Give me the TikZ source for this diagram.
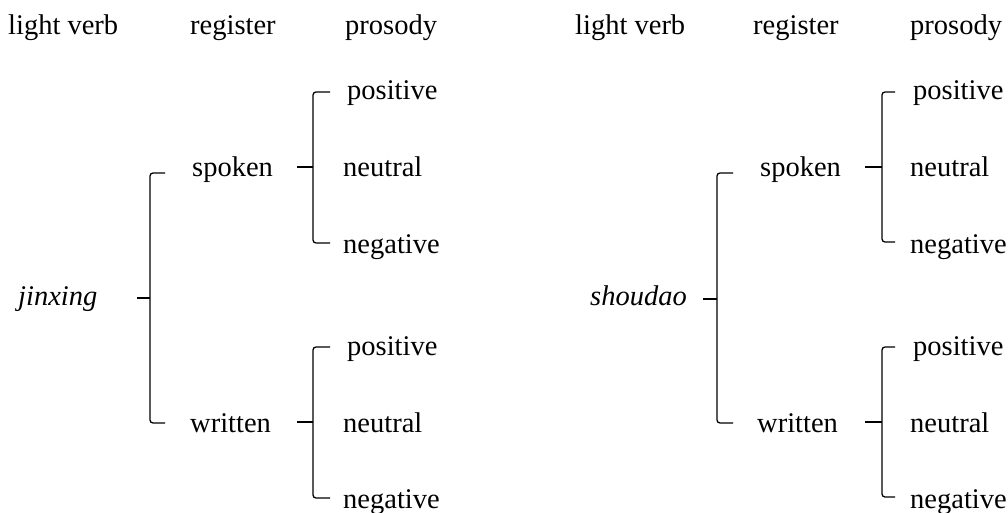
\documentclass[tikz,border=0pt]{standalone}
\usepackage{fontspec}
\setmainfont{Liberation Serif}
\begin{document}
\begin{tikzpicture}[x=1pt,y=-1pt,
  lbl/.style={anchor=base west,inner sep=0pt,font=\fontsize{28.5}{30}\selectfont},
  brak/.style={line width=1.3pt,rounded corners=3pt},
  tick/.style={line width=1.3pt}]
\useasboundingbox (0,0) rectangle (1008,513);
% ---------- left tree ----------
\node[lbl] (lv1) at (8,35) {light verb};
\node[lbl] (rg1) at (190,35) {register};
\node[lbl] (pr1) at (345,35) {prosody};
\node[lbl] (jx) at (18,305) {\itshape jinxing};
\node[lbl] (sp1) at (192,177) {spoken};
\node[lbl] (wr1) at (190,432) {written};
\node[lbl] (p1a) at (347,100) {positive};
\node[lbl] (n1a) at (343,177) {neutral};
\node[lbl] (g1a) at (343,253) {negative};
\node[lbl] (p1b) at (347,355) {positive};
\node[lbl] (n1b) at (343,432) {neutral};
\node[lbl] (g1b) at (343,508) {negative};
% ---------- right tree ----------
\node[lbl] (lv2) at (575,35) {light verb};
\node[lbl] (rg2) at (753,35) {register};
\node[lbl] (pr2) at (910,35) {prosody};
\node[lbl] (sd) at (590,305) {\itshape shoudao};
\node[lbl] (sp2) at (760,177) {spoken};
\node[lbl] (wr2) at (757,432) {written};
\node[lbl] (p2a) at (913,100) {positive};
\node[lbl] (n2a) at (910,177) {neutral};
\node[lbl] (g2a) at (910,253) {negative};
\node[lbl] (p2b) at (913,355) {positive};
\node[lbl] (n2b) at (910,432) {neutral};
\node[lbl] (g2b) at (910,508) {negative};
% ---------- bracket coordinates ----------
% #1 name, #2 spine x, #3 top y, #4 bottom y, #5 mid y, #6 end x, #7 mid start x
\newcommand\mkbrak[7]{%
  \coordinate (#1t) at (#6,#3);
  \coordinate (#1b) at (#6,#4);
  \coordinate (#1st) at (#2,#3);
  \coordinate (#1sb) at (#2,#4);
  \coordinate (#1sm) at (#2,#5);
  \coordinate (#1m) at (#7,#5);
  \draw[brak] (#1t) -- (#1st) -- (#1sb) -- (#1b);
  \draw[tick] (#1m) -- (#1sm);
}
\mkbrak{A}{150}{173}{423}{298}{165}{137}
\mkbrak{B}{313}{92}{243}{167}{330}{297}
\mkbrak{C}{313}{347}{498}{422}{330}{297}
\mkbrak{D}{717}{173}{423}{299}{733}{703}
\mkbrak{E}{882}{92}{242}{167}{895}{865}
\mkbrak{F}{882}{347}{497}{422}{895}{865}
\end{tikzpicture}
\end{document}
